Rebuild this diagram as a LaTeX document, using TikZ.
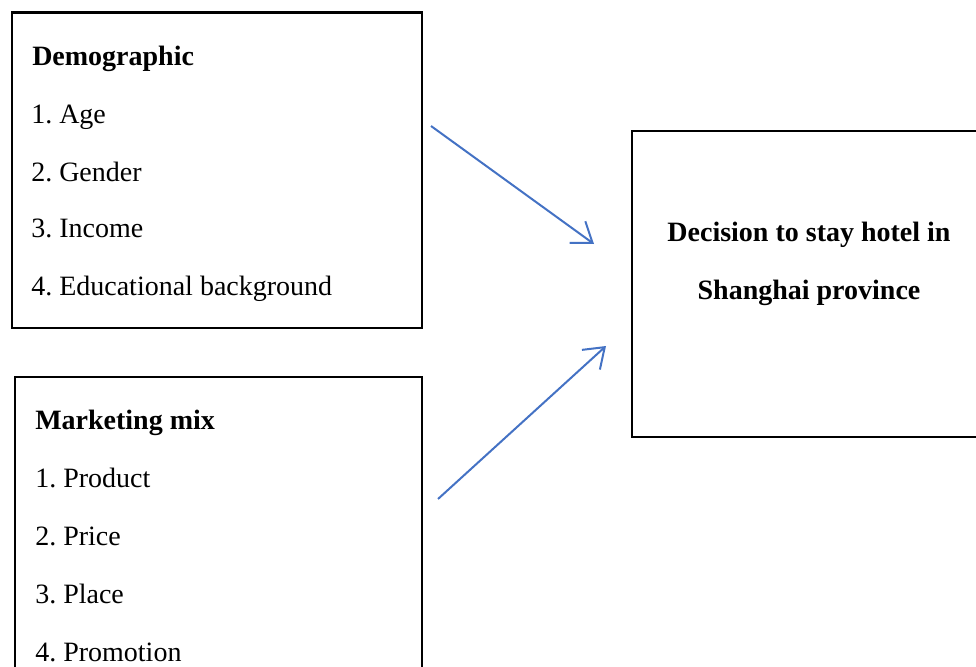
\documentclass[tikz,border=0pt]{standalone}
\usepackage{fontspec}
\setmainfont{Liberation Serif}
\frenchspacing
\usetikzlibrary{arrows.meta, positioning}
\definecolor{linkblue}{HTML}{4472C4}
\tikzset{%
	factor/.style={draw, rectangle, line width=1.6pt, inner sep=0mm, anchor=north west},
	item/.style={anchor=base west, inner sep=0mm, font=\fontsize{21}{25}\selectfont},
	heading/.style={item, font=\fontsize{21}{25}\selectfont\bfseries},
	outcome/.style={anchor=base, inner sep=0mm, font=\fontsize{21}{25}\selectfont\bfseries},
	influence/.style={-{Straight Barb[length=14pt, width=20pt, line width=1.5pt]}, linkblue, line width=1.5pt}
}

\begin{document}
\begin{tikzpicture}[x=0.75pt, y=-0.75pt]
	\useasboundingbox (0,0) rectangle (976,667);

	% boxes
	\node[factor, minimum width=307.9pt, minimum height=236.6pt] (demo) at (10.5,11.5) {};
	\node[factor, minimum width=305.6pt, minimum height=243pt] (mix) at (13.5,376) {};
	\node[factor, minimum width=276.8pt, minimum height=229.5pt] (stay) at (631,130) {};

	% demographic factors
	\node[heading] (demoT) at (32,66) {Demographic};
	\node[item] (age) at (31,123) {1. Age};
	\node[item] (gender) at (31,181) {2. Gender};
	\node[item] (income) at (31,238) {3. Income};
	\node[item] (edu) at (31,296) {4. Educational background};

	% marketing mix
	\node[heading] (mixT) at (35,429) {Marketing mix};
	\node[item] (product) at (35,487) {1. Product};
	\node[item] (price) at (35,545) {2. Price};
	\node[item] (place) at (35,603) {3. Place};
	\node[item] (promo) at (35,661) {4. Promotion};

	% decision
	\node[outcome] (line1) at (809,241) {Decision to stay hotel in};
	\node[outcome] (line2) at (809,299) {Shanghai province};

	\coordinate (demoOut) at (431,126);
	\coordinate (mixOut) at (438,499);
	\coordinate (stayIn1) at (594,244);
	\coordinate (stayIn2) at (606,346);

	\draw[influence] (demoOut) to (stayIn1);
	\draw[influence] (mixOut) to (stayIn2);
\end{tikzpicture}
\end{document}
